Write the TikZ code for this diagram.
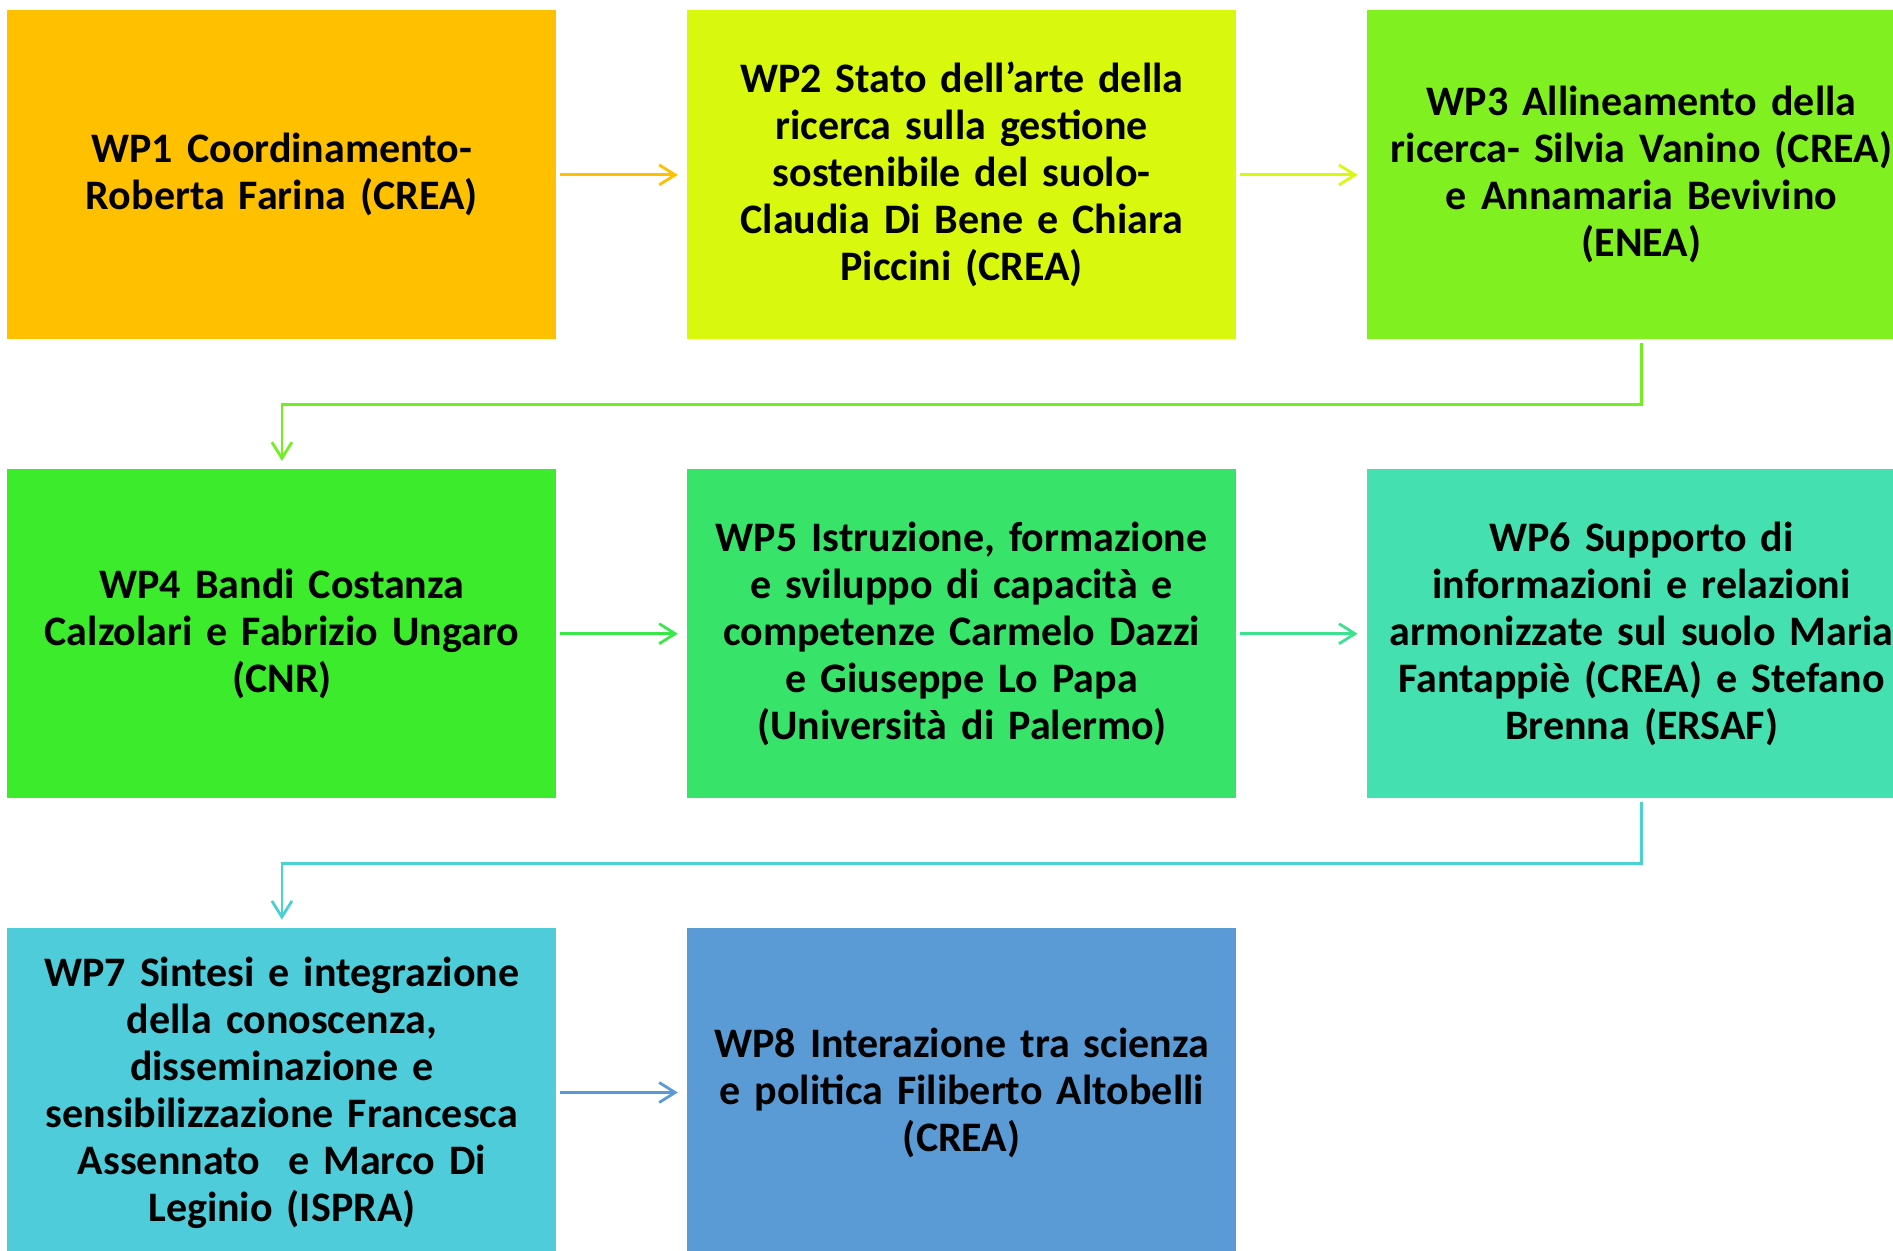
\documentclass[tikz,border=0pt]{standalone}
\usepackage{fontspec}
\setmainfont{Carlito}
\usetikzlibrary{positioning,arrows.meta}

\definecolor{wpA}{HTML}{FFC000}
\definecolor{wpB}{HTML}{D8F80E}
\definecolor{wpC}{HTML}{80F020}
\definecolor{wpD}{HTML}{3CEB2C}
\definecolor{wpE}{HTML}{38E36A}
\definecolor{wpF}{HTML}{45E0B0}
\definecolor{wpG}{HTML}{4ECCDA}
\definecolor{wpH}{HTML}{5B9BD5}

\begin{document}
\begin{tikzpicture}[
	node distance = 64.5pt and 65pt,
	WpBox/.style = {rectangle, minimum width=274.5pt, minimum height=164.5pt,
		inner sep=0pt, text width=272pt, align=center,
		font=\fontsize{21}{23.5}\selectfont\bfseries},
	WpArrow/.style = {line width=1.4pt, -{Straight Barb[length=8pt,width=10pt]},
		shorten <=1.5pt, shorten >=4.5pt}]
	\useasboundingbox (0,0) rectangle (946.5pt,-625.5pt);
	\clip (0,0) rectangle (946.5pt,-625.5pt);

	% first row
	\node[WpBox, fill=wpA, anchor=north west] (wp1) at (3.5pt,-5pt)
		{WP1 Coordinamento-\\Roberta Farina (CREA)};
	\node[WpBox, fill=wpB, right=of wp1] (wp2)
		{WP2 Stato dell’arte della\\ricerca sulla gestione\\sostenibile del suolo-\\Claudia Di Bene e Chiara\\Piccini (CREA)};
	\node[WpBox, fill=wpC, right=of wp2] (wp3)
		{WP3 Allineamento della\\ricerca- Silvia Vanino (CREA)\\e Annamaria Bevivino\\(ENEA)};

	% second row
	\node[WpBox, fill=wpD, below=of wp1] (wp4)
		{WP4 Bandi Costanza\\Calzolari e Fabrizio Ungaro\\(CNR)};
	\node[WpBox, fill=wpE, right=of wp4] (wp5)
		{WP5 Istruzione, formazione\\e sviluppo di capacità e\\competenze Carmelo Dazzi\\e Giuseppe Lo Papa\\(Università di Palermo)};
	\node[WpBox, fill=wpF, right=of wp5] (wp6)
		{WP6 Supporto di\\informazioni e relazioni\\armonizzate sul suolo Maria\\Fantappiè (CREA) e Stefano\\Brenna (ERSAF)};

	% third row
	\node[WpBox, fill=wpG, below=of wp4] (wp7)
		{WP7 Sintesi e integrazione\\della conoscenza,\\disseminazione e\\sensibilizzazione Francesca\\Assennato ~e Marco Di\\Leginio (ISPRA)};
	\node[WpBox, fill=wpH, right=of wp7] (wp8)
		{WP8 Interazione tra scienza\\e politica Filiberto Altobelli\\(CREA)};

	\coordinate (k1) at ([yshift=32pt]wp4.north);
	\coordinate (k2) at ([yshift=32pt]wp7.north);

	\draw[WpArrow, wpA] (wp1) -- (wp2);
	\draw[WpArrow, wpB] (wp2) -- (wp3);
	\draw[WpArrow, wpC!80!wpD, shorten >=4pt] (wp3.south) |- (k1) -- (wp4.north);
	\draw[WpArrow, wpD!50!wpE] (wp4) -- (wp5);
	\draw[WpArrow, wpE!50!wpF] (wp5) -- (wp6);
	\draw[WpArrow, wpG!80!wpF, shorten >=4pt] (wp6.south) |- (k2) -- (wp7.north);
	\draw[WpArrow, wpH] (wp7) -- (wp8);
\end{tikzpicture}
\end{document}
